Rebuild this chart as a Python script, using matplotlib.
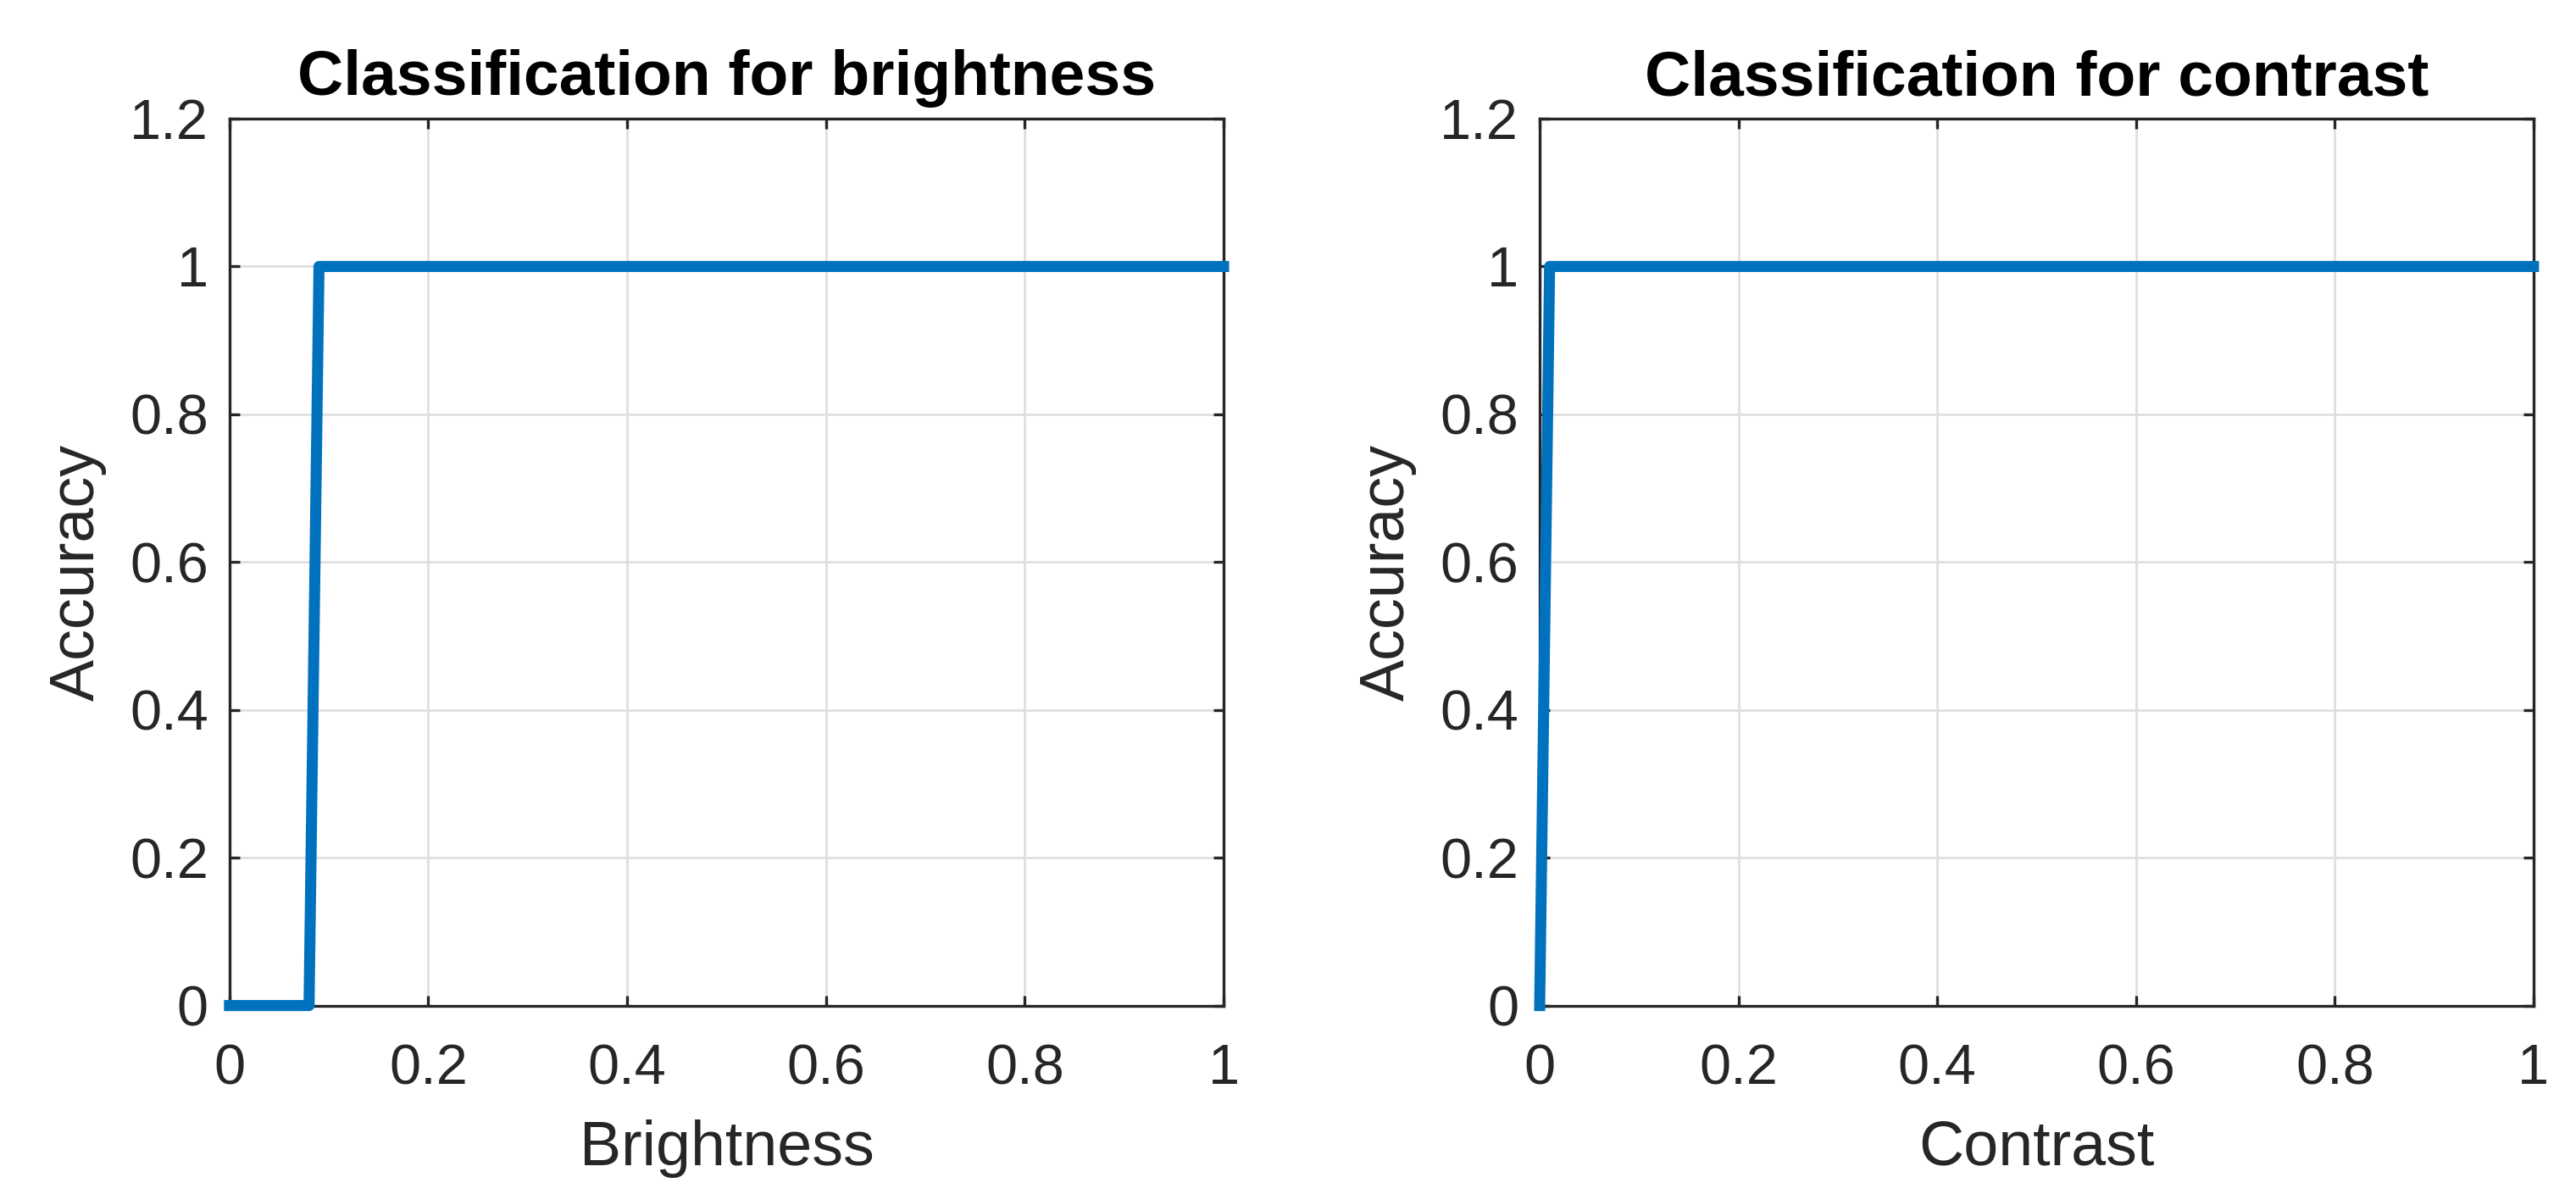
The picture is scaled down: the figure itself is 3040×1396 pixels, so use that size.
import matplotlib.pyplot as plt
import numpy as np

# data
bright_x = [0, 0.08, 0.09, 1]
bright_acc = [0, 0, 1, 1]
contrast_x = [0, 0.01, 1]
contrast_acc = [0, 1, 1]

titles = ['Classification for brightness', 'Classification for contrast']
xlabels = ['Brightness', 'Contrast']
xticks = [0, 0.2, 0.4, 0.6, 0.8, 1]
yticks = [0, 0.2, 0.4, 0.6, 0.8, 1, 1.2]

plt.rcParams['font.family'] = ['Liberation Sans', 'DejaVu Sans']

blue = '#0072BD'
dark = '#262626'

fig = plt.figure(figsize=(15.2, 6.98), dpi=200)
axes = [fig.add_axes([0.0891, 0.150, 0.3859, 0.7497]),
        fig.add_axes([0.5977, 0.150, 0.3858, 0.7497])]

series = [(bright_x, bright_acc), (contrast_x, contrast_acc)]

for ax, (x, y), title, xl in zip(axes, series, titles, xlabels):
    ax.plot(x, y, color=blue, lw=4.7, solid_joinstyle='round', clip_on=False, zorder=3)
    ax.set_xlim(0, 1)
    ax.set_ylim(0, 1.2)
    ax.set_xticks(xticks)
    ax.set_yticks(yticks)
    ax.set_xticklabels(['0', '0.2', '0.4', '0.6', '0.8', '1'])
    ax.set_yticklabels(['0', '0.2', '0.4', '0.6', '0.8', '1', '1.2'])
    ax.grid(True, color='#dfdfdf', lw=1.0)
    ax.set_axisbelow(True)
    for s in ax.spines.values():
        s.set_color(dark)
        s.set_linewidth(1.2)
        s.set_zorder(2.5)
    ax.tick_params(direction='in', length=4.4, width=1.2, colors=dark,
                   labelsize=24, top=True, right=True, pad=9)
    ax.tick_params(axis='x', pad=16)
    ax.set_title(title, fontsize=27, fontweight='bold', pad=10)
    ax.set_xlabel(xl, fontsize=26.5, color=dark, labelpad=10)
    ax.set_ylabel('Accuracy', fontsize=26.5, color=dark)
    ax.yaxis.set_label_coords(-0.124, 0.488)

fig.savefig('out.png', dpi=200)
